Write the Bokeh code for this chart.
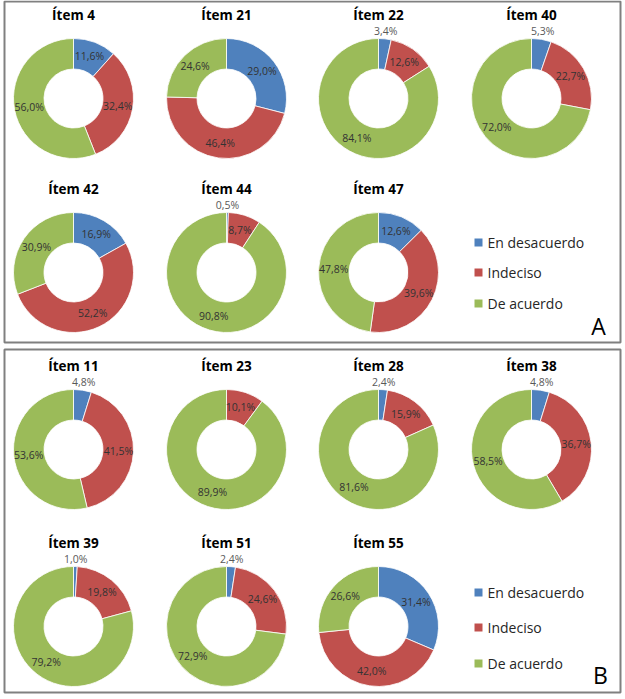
import math
from bokeh.plotting import figure
from bokeh.models import Range1d, ColumnDataSource
from bokeh.embed import file_html
from bokeh.resources import INLINE
from bokeh.core.properties import value

# ---------------- data ----------------
categories = ["En desacuerdo", "Indeciso", "De acuerdo"]
colors = ["#4F81BD", "#C0504D", "#9BBB59"]

items_A = ["Ítem 4", "Ítem 21", "Ítem 22", "Ítem 40", "Ítem 42", "Ítem 44", "Ítem 47"]
desacuerdo_A = [11.6, 29.0, 3.4, 5.3, 16.9, 0.5, 12.6]
indeciso_A = [32.4, 46.4, 12.6, 22.7, 52.2, 8.7, 39.6]
acuerdo_A = [56.0, 24.6, 84.1, 72.0, 30.9, 90.8, 47.8]

items_B = ["Ítem 11", "Ítem 23", "Ítem 28", "Ítem 38", "Ítem 39", "Ítem 51", "Ítem 55"]
desacuerdo_B = [4.8, 0.0, 2.4, 4.8, 1.0, 2.4, 31.4]
indeciso_B = [41.5, 10.1, 15.9, 36.7, 19.8, 24.6, 42.0]
acuerdo_B = [53.6, 89.9, 81.6, 58.5, 79.2, 72.9, 26.6]

panel_letters = ["A", "B"]

# ---------------- layout (screen px, y down) ----------------
W, H = 625, 699
COL_X = [73, 226, 378, 531]
PANELS = [
    dict(box=(4, 1, 620, 342), rows=(98, 272), legend_y=(242, 272, 303), letter=(598, 325)),
    dict(box=(4, 349, 620, 692), rows=(449, 626), legend_y=(592, 627, 663), letter=(600, 674)),
]
R_OUT, R_IN = 60, 29.5
R_LAB_IN, R_LAB_OUT = 45, 68
FONT = "Open Sans"

def Y(y):
    return H - y

p = figure(width=W, height=H, x_range=Range1d(0, W), y_range=Range1d(0, H),
           output_backend="svg", toolbar_location=None,
           x_axis_location=None, y_axis_location=None, min_border=0)
p.grid.visible = False
p.outline_line_color = None
p.background_fill_color = "white"

wedges = dict(x=[], y=[], start=[], end=[], color=[])
labels_in = dict(x=[], y=[], text=[])
labels_out = dict(x=[], y=[], text=[])
titles = dict(x=[], y=[], text=[])

panel_data = [
    (items_A, desacuerdo_A, indeciso_A, acuerdo_A),
    (items_B, desacuerdo_B, indeciso_B, acuerdo_B),
]

for pi, (items, d_vals, i_vals, a_vals) in enumerate(panel_data):
    pan = PANELS[pi]
    for k, name in enumerate(items):
        row = 0 if k < 4 else 1
        cx = COL_X[k if k < 4 else k - 4]
        cy = pan["rows"][row]
        vals = [d_vals[k], i_vals[k], a_vals[k]]
        total = sum(vals)
        cum = 0.0
        titles["x"].append(cx)
        titles["y"].append(Y(cy - 84))
        titles["text"].append(name)
        for c, v in enumerate(vals):
            if v <= 0:
                continue
            f0 = cum / total
            f1 = (cum + v) / total
            wedges["x"].append(cx)
            wedges["y"].append(Y(cy))
            wedges["start"].append(math.pi / 2 - 2 * math.pi * f0)
            wedges["end"].append(math.pi / 2 - 2 * math.pi * f1)
            wedges["color"].append(colors[c])
            th = 2 * math.pi * (cum + v / 2) / total
            txt = f"{v:.1f}%".replace(".", ",")
            if v < 6:
                tgt, r = labels_out, R_LAB_OUT
            else:
                tgt, r = labels_in, R_LAB_IN
            tgt["x"].append(cx + r * math.sin(th))
            tgt["y"].append(Y(cy - r * math.cos(th)))
            tgt["text"].append(txt)
            cum += v

# panel boxes
for pan in PANELS:
    l, t, r, b = pan["box"]
    p.quad(left=l, right=r, top=Y(t), bottom=Y(b), fill_color=None,
           line_color="#808080", line_width=2)

p.annular_wedge(x="x", y="y", inner_radius=R_IN, outer_radius=R_OUT,
                start_angle="start", end_angle="end", direction="clock",
                fill_color="color", line_color="white", line_width=0.8,
                source=ColumnDataSource(wedges))

p.text(x="x", y="y", text="text", source=ColumnDataSource(labels_in),
       text_font=value(FONT), text_font_size="10.5px", text_color="#333333",
       text_align="center", text_baseline="middle")
p.text(x="x", y="y", text="text", source=ColumnDataSource(labels_out),
       text_font=value(FONT), text_font_size="10.5px", text_color="#595959",
       text_align="center", text_baseline="middle")
p.text(x="x", y="y", text="text", source=ColumnDataSource(titles),
       text_font=value(FONT), text_font_size="13.5px", text_font_style="bold",
       text_color="#000000", text_align="center", text_baseline="middle")

# legends and panel letters
for pi, pan in enumerate(PANELS):
    ly = [Y(v) for v in pan["legend_y"]]
    p.scatter(x=[478] * 3, y=ly, marker="square", size=8, color=colors, line_color=None)
    p.text(x=[487] * 3, y=ly, text=categories, text_font=value(FONT),
           text_font_size="14px", text_color="#262626",
           text_align="left", text_baseline="middle")
    lx, lyy = pan["letter"]
    p.text(x=[lx], y=[Y(lyy)], text=[panel_letters[pi]], text_font=value(FONT),
           text_font_size="23px", text_color="#000000",
           text_align="center", text_baseline="middle")

open("out.html", "w").write(file_html(p, INLINE))
